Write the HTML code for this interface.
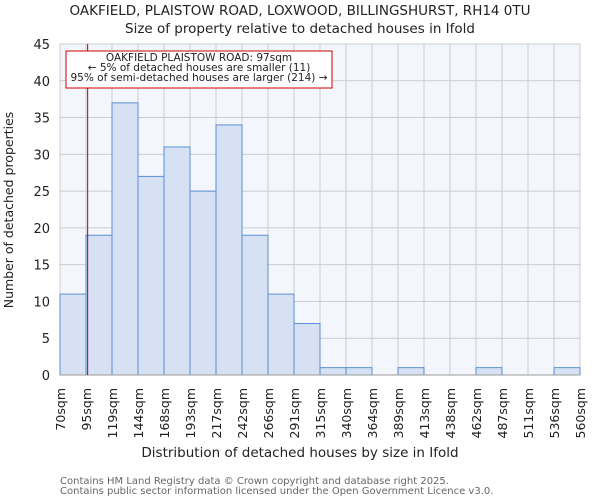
<!DOCTYPE html>
<html><head><meta charset="utf-8"><style>
body{margin:0;background:#fff;font-family:"DejaVu Sans","Liberation Sans",sans-serif;}
svg text{font-family:"DejaVu Sans","Liberation Sans",sans-serif;}
</style></head><body>
<svg id="c" width="600" height="500">
<text x="300" y="15" text-anchor="middle" font-size="13.5" fill="#222">OAKFIELD, PLAISTOW ROAD, LOXWOOD, BILLINGSHURST, RH14 0TU</text>
<text x="300" y="33" text-anchor="middle" font-size="13.5" fill="#222">Size of property relative to detached houses in Ifold</text>
<rect x="60" y="44" width="520" height="331" fill="#f3f6fc"/>
<g id="grid"></g><g id="bars"></g><g id="axes"></g>
<text x="300" y="457" text-anchor="middle" font-size="13.5" fill="#222">Distribution of detached houses by size in Ifold</text>
<text transform="translate(13,210) rotate(-90)" text-anchor="middle" font-size="12.5" fill="#222">Number of detached properties</text>
<text x="60" y="484" font-size="10" fill="#666">Contains HM Land Registry data © Crown copyright and database right 2025.</text>
<text x="60" y="494" font-size="10" fill="#666">Contains public sector information licensed under the Open Government Licence v3.0.</text>
</svg>
<script>
const categories=["70sqm","95sqm","119sqm","144sqm","168sqm","193sqm","217sqm","242sqm","266sqm","291sqm","315sqm","340sqm","364sqm","389sqm","413sqm","438sqm","462sqm","487sqm","511sqm","536sqm","560sqm"];
const counts=[11,19,37,27,31,25,34,19,11,7,1,1,0,1,0,0,1,0,0,1];
const yTicks=[0,5,10,15,20,25,30,35,40,45];
const propertySize=97;
const binStart=70, binWidth=24.5;
const NS="http://www.w3.org/2000/svg";
const x0=60,x1=580,yTop=44,yBot=375,yMax=45;
const bw=(x1-x0)/counts.length;
const xs=i=>x0+i*bw;
const xv=v=>x0+(v-binStart)/binWidth*bw;
const ys=v=>yBot-v/yMax*(yBot-yTop);
function mk(t,a,p){const e=document.createElementNS(NS,t);for(const k in a)e.setAttribute(k,a[k]);p.appendChild(e);return e;}
const grid=document.getElementById('grid'),bars=document.getElementById('bars'),axes=document.getElementById('axes');
yTicks.forEach(v=>{
 const l=mk('line',{x1:x0,x2:x1,y1:ys(v),y2:ys(v),stroke:'#ccc','stroke-width':1},grid);
 
 
 const t=mk('text',{x:x0-10,y:ys(v)+5,'text-anchor':'end','font-size':13,fill:'#222'},axes);
 t.textContent=v;
 
 
});
categories.forEach((c,i)=>{
 const l=mk('line',{x1:xs(i),x2:xs(i),y1:yTop,y2:yBot,stroke:'#ccc','stroke-width':1},grid);
 
 
 const t=mk('text',{transform:`translate(${xs(i)+5},388) rotate(-90)`,'text-anchor':'end','font-size':12.5,fill:'#222'},axes);
 t.textContent=c;
 
 
});
counts.forEach((v,i)=>{
 if(v<=0)return;
 const r=mk('rect',{x:xs(i),y:ys(v),width:bw,height:yBot-ys(v),fill:'#d6e1f3',stroke:'#5b8fd6','stroke-width':1},bars);
 
 
});
const ax=mk('line',{x1:x0,x2:x1,y1:yBot,y2:yBot,stroke:'#999','stroke-width':1},axes);


const mx=xv(propertySize)-1;
const ml=mk('line',{x1:mx,x2:mx,y1:yTop,y2:yBot,stroke:'#b00','stroke-width':1},axes);


const box=mk('rect',{x:66,y:51,width:266,height:37,fill:'#fff',stroke:'#c00','stroke-width':1},axes);


["OAKFIELD PLAISTOW ROAD: 97sqm","← 5% of detached houses are smaller (11)","95% of semi-detached houses are larger (214) →"].forEach((s,k)=>{
 const t=mk('text',{x:199,y:61+k*10,'text-anchor':'middle','font-size':10.5,fill:'#222'},axes);
 t.textContent=s;
 
 
});
</script>
</body></html>
